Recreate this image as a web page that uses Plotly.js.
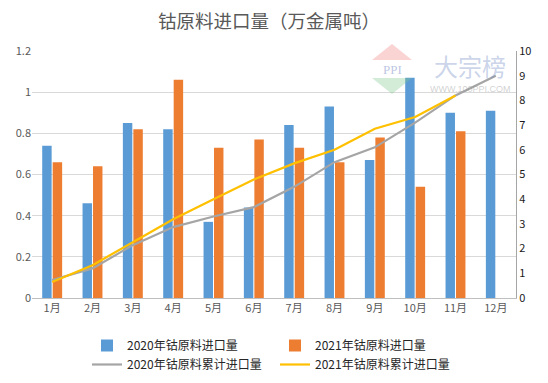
<!DOCTYPE html>
<html>
<head>
<meta charset="utf-8">
<script src="https://cdn.plot.ly/plotly-3.0.1.min.js"></script>
<style>html,body{margin:0;padding:0;background:#fff;}#chart{width:548px;height:383px;}</style>
</head>
<body>
<div id="chart"></div>
<script>
const months = ["1月","2月","3月","4月","5月","6月","7月","8月","9月","10月","11月","12月"];
const imports2020 = [0.74,0.46,0.85,0.82,0.37,0.44,0.84,0.93,0.67,1.07,0.90,0.91];
const imports2021 = [0.66,0.64,0.82,1.06,0.73,0.77,0.73,0.66,0.78,0.54,0.81,null];
const cum2020 = [0.73,1.2,2.14,2.87,3.3,3.68,4.5,5.5,6.1,7.1,8.2,9.0];
const cum2021 = [0.65,1.33,2.26,3.19,4.0,4.8,5.45,6.0,6.85,7.33,8.2,null];
const names = ["2020年钴原料进口量","2021年钴原料进口量","2020年钴原料累计进口量","2021年钴原料累计进口量"];

const font = "'Noto Sans CJK SC', 'Noto Sans', sans-serif";
// pixel -> paper helpers for decorative watermark
const L=32, T=51, W=484, H=247;
const px = v => (v - L) / W;
const py = v => (T + H - v) / H;

const data = [
  {type:'bar', name:names[0], x:months, y:imports2020, marker:{color:'#5B9BD5'}},
  {type:'bar', name:names[1], x:months, y:imports2021, marker:{color:'#ED7D31'}},
  {type:'scatter', mode:'lines', name:names[2], x:months, y:cum2020, yaxis:'y2', line:{color:'#A5A5A5', width:2.2}},
  {type:'scatter', mode:'lines', name:names[3], x:months, y:cum2021, yaxis:'y2', line:{color:'#FFC000', width:2.2}}
];
const layout = {
  width:548, height:383,
  margin:{l:L, r:548-L-W, t:T, b:383-T-H, autoexpand:false},
  paper_bgcolor:'#fff', plot_bgcolor:'#fff',
  font:{family:font, size:11, color:'#595959'},
  title:{text:'钴原料进口量（万金属吨）', font:{family:font, size:18.5, color:'#595959'}, x:0.491, xanchor:'center', y:0.945, yanchor:'middle'},
  barmode:'group', bargap:0.48, bargroupgap:0.1,
  showlegend:true,
  legend:{orientation:'h', x:px(87), xanchor:'left', y:py(331), yanchor:'top', entrywidth:143, tracegroupgap:0, font:{family:font, size:12, color:'#262626'}, itemwidth:30},
  xaxis:{type:'category', showgrid:false, showline:true, linecolor:'#bfbfbf', linewidth:1, ticks:'', tickfont:{size:11, color:'#595959'}, zeroline:false},
  yaxis:{range:[0,1.2], tickvals:[0,0.2,0.4,0.6,0.8,1,1.2], ticktext:['0','0.2','0.4','0.6','0.8','1','1.2'], showgrid:true, gridcolor:'#d9d9d9', gridwidth:1, zeroline:false, showline:false, ticks:'', tickfont:{size:11, color:'#595959'}},
  yaxis2:{overlaying:'y', side:'right', range:[0,10], dtick:1, showgrid:false, zeroline:false, showline:true, linecolor:'#a6a6a6', linewidth:1, ticks:'', tickfont:{size:11, color:'#1a1a1a'}},
  shapes:[
    {type:'path', xref:'paper', yref:'paper', layer:'above', line:{width:0}, fillcolor:'rgba(240,130,130,0.35)',
     path:`M ${px(372)} ${py(60)} L ${px(392)} ${py(44)} L ${px(412)} ${py(60)} Z`},
    {type:'path', xref:'paper', yref:'paper', layer:'above', line:{width:0}, fillcolor:'rgba(130,200,140,0.35)',
     path:`M ${px(372)} ${py(78)} L ${px(392)} ${py(94)} L ${px(412)} ${py(78)} Z`}
  ],
  annotations:[
    {text:'大宗榜', xref:'paper', yref:'paper', x:px(470), y:py(65), xanchor:'center', yanchor:'middle', showarrow:false, font:{family:font, size:24, color:'rgba(120,145,200,0.4)'}},
    {text:'WWW.100PPI.COM', xref:'paper', yref:'paper', x:px(470), y:py(89), xanchor:'center', yanchor:'middle', showarrow:false, font:{family:'Liberation Sans, sans-serif', size:9, color:'rgba(150,150,150,0.45)'}},
    {text:'PPI', xref:'paper', yref:'paper', x:px(392), y:py(69), xanchor:'center', yanchor:'middle', showarrow:false, font:{family:'Liberation Serif, serif', size:13, color:'rgba(120,140,200,0.5)'}}
  ]
};
Plotly.newPlot('chart', data, layout, {displayModeBar:false, staticPlot:true});
</script>
</body>
</html>
